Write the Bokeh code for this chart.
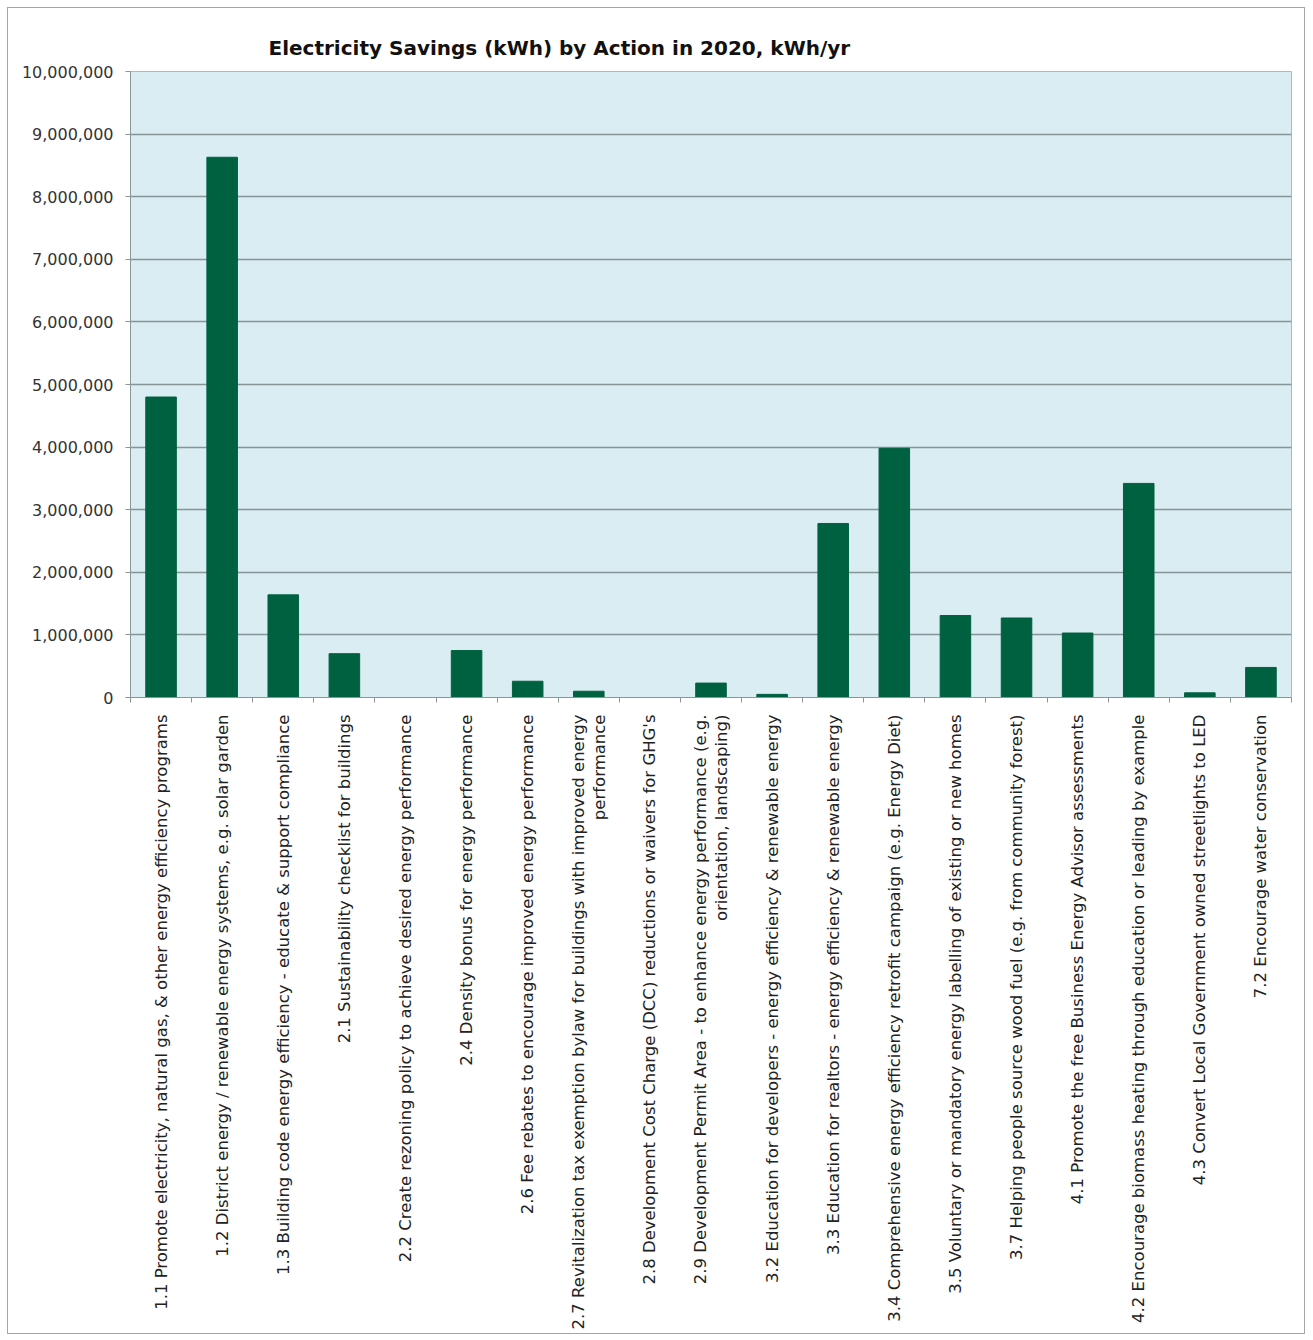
import math
from bokeh.plotting import figure
from bokeh.models import (FactorRange, Range1d, LinearAxis, CategoricalAxis, FixedTicker,
                          NumeralTickFormatter)
from bokeh.embed import file_html
from bokeh.resources import INLINE

title_text = "Electricity Savings (kWh) by Action in 2020, kWh/yr"

actions = [
    "1.1 Promote electricity, natural gas, & other energy efficiency programs",
    "1.2 District energy / renewable energy systems, e.g. solar garden",
    "1.3 Building code energy efficiency - educate & support compliance",
    "2.1 Sustainability checklist for buildings",
    "2.2 Create rezoning policy to achieve desired energy performance",
    "2.4 Density bonus for energy performance",
    "2.6 Fee rebates to encourage improved energy performance",
    "2.7 Revitalization tax exemption bylaw for buildings with improved energy\nperformance",
    "2.8 Development Cost Charge (DCC) reductions or waivers for GHG's",
    "2.9 Development Permit Area - to enhance energy performance (e.g.\norientation, landscaping)",
    "3.2 Education for developers - energy efficiency & renewable energy",
    "3.3 Education for realtors - energy efficiency & renewable energy",
    "3.4 Comprehensive energy efficiency retrofit campaign (e.g. Energy Diet)",
    "3.5 Voluntary or mandatory energy labelling of existing or new homes",
    "3.7 Helping people source wood fuel (e.g. from community forest)",
    "4.1 Promote the free Business Energy Advisor assessments",
    "4.2 Encourage biomass heating through education or leading by example",
    "4.3 Convert Local Government owned streetlights to LED",
    "7.2 Encourage water conservation",
]

savings_kwh = [4800000, 8630000, 1640000, 700000, 0, 750000, 260000, 100000, 0,
               230000, 50000, 2780000, 3980000, 1310000, 1270000, 1030000,
               3420000, 75000, 480000]

y_ticks = [0, 1000000, 2000000, 3000000, 4000000, 5000000, 6000000, 7000000,
           8000000, 9000000, 10000000]

p = figure(width=1298, height=1327, x_range=FactorRange(*actions, range_padding=0),
           y_range=Range1d(0, 10000000), output_backend="svg", toolbar_location=None,
           x_axis_location=None, min_border_left=122, min_border_right=15,
           min_border_top=63, min_border_bottom=638)
p.styles = {"border": "1px solid #a6a6a6", "margin": "7px"}

p.title.text = title_text
p.title.align = "left"
p.title.offset = 138
p.title.standoff = 24
p.title.text_font = "DejaVu Sans"
p.title.text_font_size = "20px"
p.title.text_font_style = "bold"
p.title.text_color = "#111111"

p.background_fill_color = "#DAEDF2"
p.border_fill_color = "white"
p.outline_line_color = "#b0b8b8"

p.vbar(x=actions, top=savings_kwh, width=0.5, fill_color="#006141", line_color="#006141")

# Boundary tick marks (Excel style) at synthetic category edges
edges = list(range(len(actions) + 1))
tick_axis = LinearAxis(ticker=FixedTicker(ticks=edges))
tick_axis.major_label_overrides = {e: "" for e in edges}
tick_axis.major_label_standoff = 0
tick_axis.major_tick_in = 0
tick_axis.major_tick_out = 5
tick_axis.minor_tick_line_color = None
tick_axis.axis_line_color = "#8c9696"
tick_axis.major_tick_line_color = "#8c9696"
p.add_layout(tick_axis, "below")

cat_axis = CategoricalAxis()
cat_axis.major_label_orientation = math.pi / 2
cat_axis.major_label_text_font = "DejaVu Sans"
cat_axis.major_label_text_font_size = "16.5px"
cat_axis.major_label_text_line_height = 1.1
cat_axis.major_label_text_color = "#222222"
cat_axis.major_tick_line_color = None
cat_axis.axis_line_color = None
cat_axis.major_label_standoff = 6
p.add_layout(cat_axis, "below")

p.yaxis.ticker = FixedTicker(ticks=y_ticks)
p.yaxis.formatter = NumeralTickFormatter(format="0,0")
p.yaxis.major_label_text_font = "DejaVu Sans"
p.yaxis.major_label_text_font_size = "16px"
p.yaxis.major_label_text_color = "#333333"
p.yaxis.axis_line_color = "#8c9696"
p.yaxis.major_tick_line_color = "#8c9696"
p.yaxis.major_tick_in = 0
p.yaxis.major_tick_out = 5
p.yaxis.minor_tick_line_color = None
p.yaxis.major_label_standoff = 12

p.xgrid.grid_line_color = None
p.ygrid.grid_line_color = "#869595"
p.ygrid.grid_line_width = 1.5

open("out.html", "w").write(file_html(p, INLINE))
